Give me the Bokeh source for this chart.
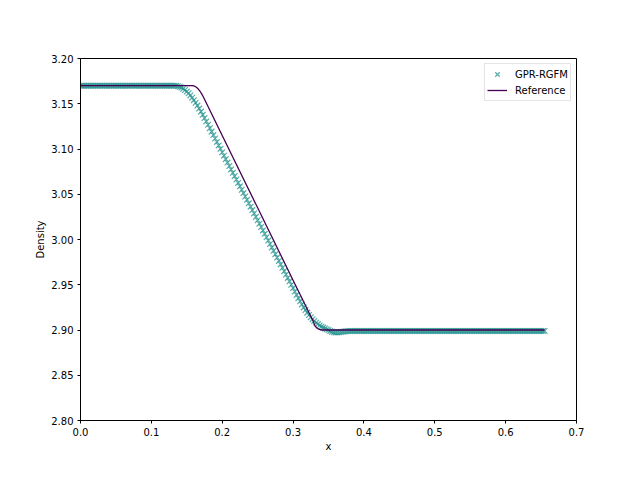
from bokeh.plotting import figure
from bokeh.models import FixedTicker, PrintfTickFormatter, Range1d, Legend, LegendItem
from bokeh.embed import file_html
from bokeh.resources import INLINE

# ---- data ----
gpr_step = 0.0025
gpr_count = 263
gpr_x = [round(i * gpr_step, 4) for i in range(gpr_count)]

gpr_top = [3.1700] * 52
gpr_transition = [
    3.1700, 3.1700, 3.1698, 3.1694, 3.1688, 3.1679, 3.1667, 3.1652, 3.1635, 3.1615,
    3.1592, 3.1567, 3.1540, 3.1511, 3.1480, 3.1447, 3.1413, 3.1378, 3.1342, 3.1305,
    3.1268, 3.1230, 3.1192, 3.1154, 3.1116, 3.1078, 3.1040, 3.1002, 3.0964, 3.0926,
    3.0888, 3.0850, 3.0812, 3.0774, 3.0737, 3.0700, 3.0663, 3.0625, 3.0588, 3.0550,
    3.0513, 3.0475, 3.0438, 3.0400, 3.0363, 3.0325, 3.0288, 3.0250, 3.0213, 3.0175,
    3.0138, 3.0100, 3.0063, 3.0025, 2.9988, 2.9950, 2.9913, 2.9875, 2.9838, 2.9800,
    2.9763, 2.9725, 2.9688, 2.9650, 2.9613, 2.9575, 2.9538, 2.9500, 2.9463, 2.9425,
    2.9388, 2.9352, 2.9317, 2.9283, 2.9250, 2.9220, 2.9192, 2.9166, 2.9142, 2.9120,
    2.9100, 2.9081, 2.9065, 2.9050, 2.9037, 2.9027, 2.9017, 2.9008, 2.8999, 2.8990,
    2.8982, 2.8976, 2.8973, 2.8973, 2.8975, 2.8978, 2.8981, 2.8984, 2.8986, 2.8988,
]
gpr_bottom = [2.8990] * 111
gpr_y = gpr_top + gpr_transition + gpr_bottom

ref_x = [0.0, 0.1576, 0.160, 0.163, 0.166, 0.169, 0.172, 0.1736, 0.20, 0.25, 0.30,
         0.3284, 0.331, 0.334, 0.337, 0.3404, 0.655]
ref_y = [3.170, 3.170, 3.1697, 3.1685, 3.1665, 3.1635, 3.1596, 3.1572, 3.115, 3.035, 2.955,
         2.9096, 2.9044, 2.9020, 2.9006, 2.900, 2.900]

x_ticks = [0.0, 0.1, 0.2, 0.3, 0.4, 0.5, 0.6, 0.7]
y_ticks = [2.80, 2.85, 2.90, 2.95, 3.00, 3.05, 3.10, 3.15, 3.20]

FONT = "DejaVu Sans"
FS = "10px"

p = figure(width=632, height=472, output_backend="svg", toolbar_location=None,
           x_range=Range1d(0.0, 0.7), y_range=Range1d(2.80, 3.20),
           min_border_left=80, min_border_right=56, min_border_top=58, min_border_bottom=52)

p.xgrid.visible = False
p.ygrid.visible = False
p.outline_line_color = "black"
p.outline_line_width = 1
p.background_fill_color = "white"
p.border_fill_color = "white"

for ax in (p.xaxis[0], p.yaxis[0]):
    ax.major_tick_in = 0
    ax.major_tick_out = 3
    ax.minor_tick_in = 0
    ax.minor_tick_out = 0
    ax.axis_line_color = "black"
    ax.major_tick_line_color = "black"
    ax.major_label_text_font = FONT
    ax.major_label_text_font_size = FS
    ax.major_label_text_color = "black"
    ax.axis_label_text_font = FONT
    ax.axis_label_text_font_size = FS
    ax.axis_label_text_font_style = "normal"
    ax.axis_label_text_color = "black"
    ax.major_label_standoff = 4

p.xaxis[0].ticker = FixedTicker(ticks=x_ticks)
p.xaxis[0].formatter = PrintfTickFormatter(format="%.1f")
p.yaxis[0].ticker = FixedTicker(ticks=y_ticks)
p.yaxis[0].formatter = PrintfTickFormatter(format="%.2f")
p.xaxis[0].axis_label = "x"
p.yaxis[0].axis_label = "Density"
p.xaxis[0].axis_label_standoff = 2
p.yaxis[0].axis_label_standoff = 2

r_gpr = p.scatter(gpr_x, gpr_y, marker="x", size=8, line_color="#21918c",
                  line_alpha=0.75, line_width=1.2)
r_ref = p.line(ref_x, ref_y, line_color="#440154", line_width=1.3)

legend = Legend(items=[LegendItem(label="GPR-RGFM", renderers=[r_gpr]),
                       LegendItem(label="Reference", renderers=[r_ref])],
                location="top_right")
legend.label_text_font = FONT
legend.label_text_font_size = FS
legend.label_text_color = "black"
legend.margin = 5
legend.padding = 2
legend.spacing = -2
legend.glyph_height = 16
legend.label_height = 16
legend.glyph_width = 20
legend.label_standoff = 8
legend.border_line_color = "#cccccc"
legend.border_line_width = 1
legend.background_fill_alpha = 0.8
p.add_layout(legend)

open("out.html", "w").write(file_html(p, INLINE))
